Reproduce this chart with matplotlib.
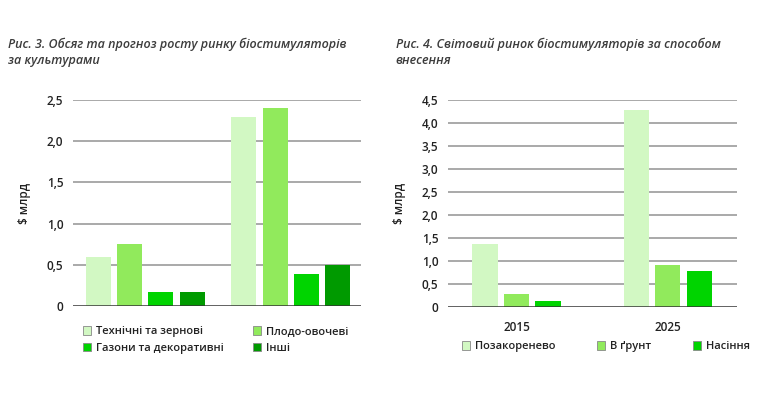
import numpy as np
import matplotlib
matplotlib.use('Agg')
import matplotlib.pyplot as plt

plt.rcParams['font.family'] = ['Open Sans', 'DejaVu Sans']

# Рис. 3 - by crops
crop_labels = ['Технічні та зернові', 'Плодо-овочеві', 'Газони та декоративні', 'Інші']
crop_colors = ['#d2f8c3', '#91ea5c', '#00d400', '#009a00']
crop_2015 = [0.60, 0.75, 0.17, 0.17]
crop_2025 = [2.29, 2.40, 0.39, 0.50]

# Рис. 4 - by application method
method_labels = ['Позакоренево', 'В ґрунт', 'Насіння']
method_colors = ['#d2f8c3', '#91ea5c', '#00d400']
years = ['2015', '2025']
method_2015 = [1.36, 0.28, 0.12]
method_2025 = [4.28, 0.90, 0.77]

title_color = '#3c3c3c'
text_color = '#222222'
grid_color = '#a3a3a3'

fig = plt.figure(figsize=(7.65, 3.97), dpi=100)
ax1 = fig.add_axes([0.0954, 0.2292, 0.3765, 0.519])
ax2 = fig.add_axes([0.5856, 0.2275, 0.3778, 0.5207])


def style_axis(ax, ymax, ticks):
    ax.set_ylim(0, ymax)
    ax.set_yticks(ticks)
    ax.set_yticklabels(['0' if t == 0 else ('%.1f' % t).replace('.', ',') for t in ticks],
                       fontsize=8.5, color=text_color, weight='semibold')
    for t in ticks[1:]:
        ax.axhline(t, color=grid_color, lw=1.3, zorder=0)
    ax.axhline(0, color='#333333', lw=1.8, zorder=3)
    for s in ax.spines.values():
        s.set_visible(False)
    ax.tick_params(axis='both', length=0, pad=7)
    ax.set_ylabel('$ млрд', fontsize=8.5, color=text_color, labelpad=11, weight='semibold')


# left chart
gap1 = 4.65
handles = []
for i in range(4):
    xs = [i - 1.5, gap1 + i - 1.5]
    b = ax1.bar(xs, [crop_2015[i], crop_2025[i]], width=0.8, color=crop_colors[i], zorder=2)
    handles.append(b)
ax1.set_xlim(-2.315, 6.9)
ax1.set_xticks([])
style_axis(ax1, 2.5, [0, 0.5, 1.0, 1.5, 2.0, 2.5])

order = [0, 2, 1, 3]
leg1 = ax1.legend([handles[k] for k in order], [crop_labels[k] for k in order],
                  ncol=2, loc='upper left', bbox_to_anchor=(0.108, 0.178),
                  bbox_transform=fig.transFigure, frameon=False,
                  prop={'size': 8, 'weight': 'semibold'},
                  handlelength=0.75, handleheight=0.75, handletextpad=0.45,
                  columnspacing=2.6, labelspacing=0.5, borderpad=0, borderaxespad=0)
for h in leg1.legend_handles:
    h.set_edgecolor('#888888')
    h.set_linewidth(0.6)
for t in leg1.get_texts():
    t.set_color(text_color)

fig.text(0.011, 0.83, 'Рис. 3. Обсяг та прогноз росту ринку біостимуляторів\nза культурами',
         fontsize=9.0, style='italic', weight='semibold', color=title_color,
         va='bottom', ha='left', linespacing=1.35)

# right chart
gap2 = 4.8
handles2 = []
for i in range(3):
    xs = [i - 1, gap2 + i - 1]
    b = ax2.bar(xs, [method_2015[i], method_2025[i]], width=0.8, color=method_colors[i], zorder=2)
    handles2.append(b)
ax2.set_xlim(-2.175, 7.0)
ax2.set_xticks([0, gap2])
style_axis(ax2, 4.5, [0, 0.5, 1.0, 1.5, 2.0, 2.5, 3.0, 3.5, 4.0, 4.5])
ax2.set_xticklabels(years, fontsize=8.5, color=text_color, weight='semibold')
ax2.tick_params(axis='x', pad=10)

leg2 = ax2.legend(handles2, method_labels, ncol=3, loc='upper left',
                  bbox_to_anchor=(0.604, 0.14), bbox_transform=fig.transFigure,
                  frameon=False, prop={'size': 8, 'weight': 'semibold'},
                  handlelength=0.75, handleheight=0.75,
                  handletextpad=0.45, columnspacing=3.7, borderpad=0, borderaxespad=0)
for h in leg2.legend_handles:
    h.set_edgecolor('#888888')
    h.set_linewidth(0.6)
for t in leg2.get_texts():
    t.set_color(text_color)

fig.text(0.517, 0.83, 'Рис. 4. Світовий ринок біостимуляторів за способом\nвнесення',
         fontsize=9.0, style='italic', weight='semibold', color=title_color,
         va='bottom', ha='left', linespacing=1.35)

fig.savefig('out.png', dpi=100)
